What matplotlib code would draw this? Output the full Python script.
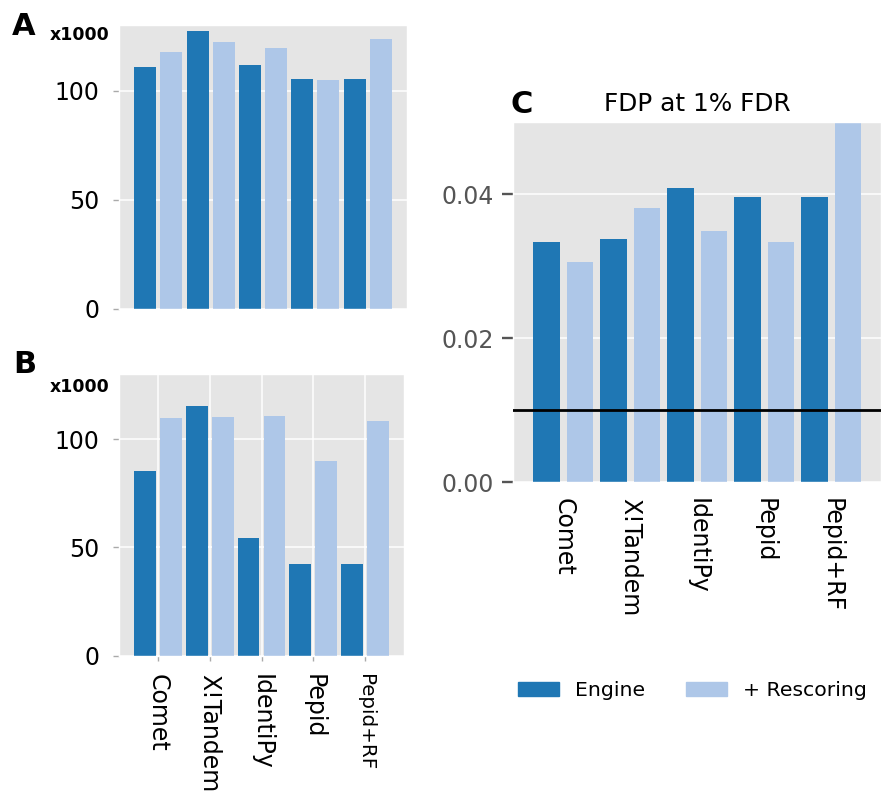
import matplotlib.pyplot as plt
import numpy as np
from matplotlib.patches import Patch

# ---- données ----
moteurs = ["Comet", "X!Tandem", "IdentiPy", "Pepid", "Pepid+RF"]

# Panel A (x1000)
a_engine = [110.9, 127.3, 111.8, 105.4, 105.4]
a_rescoring = [117.7, 122.3, 119.6, 104.9, 123.7]

# Panel B (x1000)
b_engine = [85.3, 115.3, 54.3, 42.3, 42.3]
b_rescoring = [109.7, 110.2, 110.7, 89.9, 108.4]

# Panel C : FDP at 1% FDR
c_engine = [0.0333, 0.0337, 0.0409, 0.0396, 0.0396]
c_rescoring = [0.0306, 0.0380, 0.0348, 0.0333, 0.0520]
fdr_seuil = 0.01

COL_ENGINE = "#1f77b4"
COL_RESC = "#aec7e8"
FOND = "#e5e5e5"

W, H = 882, 792
fig = plt.figure(figsize=(W / 100, H / 100), dpi=100)


def boite(x0, x1, y0, y1):
    """Position d'un axe à partir de pixels (origine en haut à gauche)."""
    return [x0 / W, 1 - y1 / H, (x1 - x0) / W, (y1 - y0) / H]


def barres(ax, eng, resc, largeur):
    n = len(eng)
    x_eng = np.arange(n) * 2
    x_resc = x_eng + 1
    ax.bar(x_eng, eng, width=largeur, color=COL_ENGINE, linewidth=0, zorder=2)
    ax.bar(x_resc, resc, width=largeur, color=COL_RESC, linewidth=0, zorder=2)
    ax.set_xlim(-1, 2 * n)
    ax.set_facecolor(FOND)
    for s in ax.spines.values():
        s.set_color("white")
        s.set_linewidth(1)
    ax.set_axisbelow(True)
    return x_eng + 0.5


# ==========================================
# Panel A
# ==========================================
axA = fig.add_axes(boite(119, 407, 25, 309))
barres(axA, a_engine, a_rescoring, 0.84)
axA.set_ylim(0, 130)
axA.set_yticks([0, 50, 100])
axA.yaxis.grid(True, color="white", linewidth=1.1)
axA.set_xticks([])
axA.tick_params(axis="y", labelsize=17, labelcolor="black", color="#aaaaaa",
                length=4, width=1, pad=10)

# ==========================================
# Panel B
# ==========================================
axB = fig.add_axes(boite(119, 404, 374, 655.7))
centres = barres(axB, b_engine, b_rescoring, 0.84)
axB.set_ylim(0, 130)
axB.set_yticks([0, 50, 100])
axB.grid(True, color="white", linewidth=1.1)
axB.set_xticks(centres)
axB.set_xticklabels(moteurs, rotation=270)
axB.tick_params(axis="y", labelsize=17, labelcolor="black", color="#aaaaaa",
                length=4, width=1, pad=10)
axB.tick_params(axis="x", labelsize=17, labelcolor="black", color="#aaaaaa",
                length=3.6, width=1, pad=9.5)
axB.get_xticklabels()[-1].set_fontsize(14.3)

# ==========================================
# Panel C
# ==========================================
axC = fig.add_axes(boite(513, 881.5, 122, 482))
centres = barres(axC, c_engine, c_rescoring, 0.8)
axC.set_ylim(0, 0.05)
axC.set_yticks([0.0, 0.02, 0.04])
axC.set_yticklabels(["0.00", "0.02", "0.04"])
axC.yaxis.grid(True, color="white", linewidth=1.1)
axC.axhline(fdr_seuil, color="black", linewidth=2, zorder=3)
axC.set_xticks(centres)
axC.set_xticklabels(moteurs, rotation=270)
axC.tick_params(axis="y", labelsize=17, labelcolor="#555555", color="#555555",
                length=8, width=1.7, pad=5.5)
axC.tick_params(axis="x", labelsize=17, labelcolor="black", length=0, pad=11.5)
axC.set_title("FDP at 1% FDR", fontsize=17.8, pad=8)

# ---- lettres des panneaux et échelles ----
fig.text(12 / W, 1 - 35 / H, "A", fontsize=22, fontweight="bold", va="baseline")
fig.text(13 / W, 1 - 373 / H, "B", fontsize=22, fontweight="bold", va="baseline")
fig.text(511 / W, 1 - 113 / H, "C", fontsize=22, fontweight="bold", va="baseline")
fig.text(50 / W, 1 - 40.5 / H, "x1000", fontsize=12.5, fontweight="bold", va="baseline")
fig.text(50 / W, 1 - 392 / H, "x1000", fontsize=12.5, fontweight="bold", va="baseline")

# ---- légende ----
poignees = [Patch(color=COL_ENGINE, label="Engine"),
            Patch(color=COL_RESC, label="+ Rescoring")]
fig.legend(handles=poignees, loc="center", ncol=2, frameon=False, fontsize=14.7,
           handlelength=2.0, handletextpad=0.8, columnspacing=2.0,
           bbox_to_anchor=(692.5 / W, 1 - 690.5 / H))

plt.savefig("out.png", dpi=100)
